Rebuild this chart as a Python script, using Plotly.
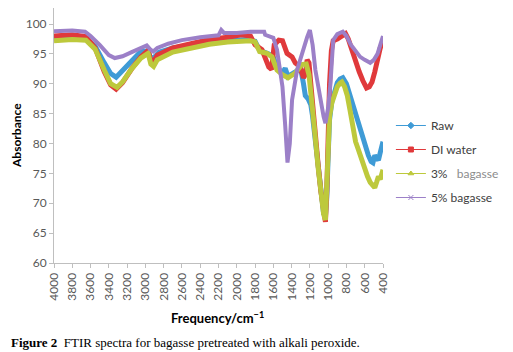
import plotly.graph_objects as go

# ---------------- data ----------------
raw_wn = [4000, 3800, 3650, 3550, 3450, 3380, 3320, 3250, 3150, 3050, 2970, 2935, 2900, 2850,
          2700, 2500, 2300, 2100, 1900, 1800, 1750, 1650, 1600, 1550, 1500, 1470, 1440, 1400,
          1350, 1300, 1270, 1250, 1220, 1190, 1170, 1150, 1110, 1080, 1050, 1030, 1015, 1000,
          985, 960, 930, 900, 870, 840, 800, 760, 720, 690, 650, 620, 590, 560, 530, 510, 490,
          470, 450, 430, 410, 400]
raw_val = [97.6, 97.8, 97.6, 96.3, 93.5, 91.7, 91.1, 92.2, 94.0, 95.4, 95.5, 94.0, 94.5, 95.3,
           96.0, 96.5, 96.9, 97.2, 97.4, 97.1, 95.6, 95.0, 94.4, 92.6, 91.8, 92.6, 91.2, 91.6,
           92.0, 92.5, 90.0, 88.0, 87.5, 86.5, 84.5, 81.5, 75.5, 71.0, 68.3, 67.8, 71.0, 78.0,
           84.0, 87.0, 89.0, 90.2, 90.8, 91.0, 90.0, 88.0, 85.5, 84.0, 82.0, 80.5, 79.5, 78.0,
           77.0, 76.8, 78.0, 77.5, 77.2, 78.5, 79.5, 80.3]

di_wn = [4000, 3800, 3650, 3550, 3450, 3380, 3320, 3250, 3150, 3050, 2970, 2940, 2910, 2870,
         2700, 2500, 2300, 2100, 1950, 1850, 1800, 1725, 1690, 1650, 1620, 1590, 1540, 1500,
         1450, 1395, 1360, 1310, 1270, 1250, 1230, 1210, 1190, 1170, 1150, 1110, 1080, 1050,
         1030, 1015, 1000, 985, 965, 945, 900, 850, 810, 780, 740, 700, 660, 620, 580, 550,
         520, 490, 460, 430, 400]
di_val = [98.0, 98.2, 97.9, 96.0, 92.0, 89.8, 89.1, 90.2, 92.5, 94.5, 95.6, 93.8, 93.7, 94.8,
          96.0, 96.8, 97.4, 97.8, 98.2, 98.0, 96.5, 95.7, 94.5, 92.8, 92.4, 96.5, 97.3, 97.2,
          95.1, 94.5, 93.5, 92.9, 91.0, 91.5, 94.0, 93.5, 90.0, 86.0, 82.5, 76.5, 72.0, 68.5,
          66.9, 72.0, 82.0, 90.0, 95.5, 97.2, 97.5, 98.0, 98.4, 97.5, 95.5, 93.5, 92.0, 90.5,
          89.3, 89.5, 90.3, 92.0, 94.5, 96.0, 97.0]

p3_wn = [4000, 3800, 3650, 3550, 3450, 3380, 3310, 3250, 3150, 3050, 2970, 2940, 2910, 2870,
         2700, 2500, 2300, 2100, 1950, 1850, 1800, 1750, 1670, 1615, 1560, 1500, 1440, 1360,
         1290, 1240, 1210, 1190, 1170, 1150, 1110, 1080, 1050, 1030, 1015, 1000, 985, 960,
         930, 900, 870, 850, 820, 790, 760, 730, 700, 670, 630, 600, 570, 540, 510, 490, 470,
         450, 430, 400]
p3_val = [97.2, 97.4, 97.3, 95.8, 92.3, 90.0, 89.4, 90.3, 92.5, 94.3, 95.1, 93.3, 92.9, 94.0,
          95.3, 96.0, 96.6, 97.0, 97.2, 97.2, 97.0, 95.4, 95.1, 94.5, 92.3, 91.5, 91.0, 91.8,
          93.2, 93.3, 91.5, 89.0, 86.0, 82.5, 76.0, 71.5, 68.2, 67.2, 72.0, 80.0, 84.5, 86.8,
          88.5, 89.5, 90.1, 90.3, 89.5, 88.0, 85.5, 82.3, 80.3, 79.0, 77.0, 76.0, 74.5, 73.5,
          73.0, 72.6, 73.5, 74.5, 74.0, 75.6]

p5_wn = [4000, 3800, 3660, 3600, 3500, 3400, 3335, 3250, 3150, 3050, 2985, 2950, 2915, 2870,
         2750, 2600, 2400, 2200, 2170, 2140, 2000, 1850, 1700, 1690, 1600, 1560, 1530, 1500,
         1470, 1445, 1420, 1395, 1340, 1270, 1230, 1200, 1170, 1140, 1085, 1050, 1030, 1000,
         975, 945, 900, 840, 800, 750, 700, 650, 600, 540, 500, 460, 430, 410, 400]
p5_val = [98.8, 98.9, 98.7, 98.0, 96.5, 94.8, 94.3, 94.6, 95.3, 96.0, 96.4, 95.8, 95.4, 96.0,
          96.7, 97.3, 97.8, 98.1, 99.0, 98.5, 98.5, 98.7, 98.7, 98.2, 97.7, 95.7, 93.0, 89.5,
          83.0, 76.8, 80.0, 87.3, 92.3, 96.2, 97.8, 99.0, 96.5, 92.3, 87.0, 84.5, 83.4, 86.0,
          90.0, 97.3, 98.3, 98.7, 98.0, 96.5, 95.5, 94.5, 94.0, 93.5, 94.0, 95.0, 96.5, 97.7,
          98.0]

series_names = ["Raw", "DI water", "3%   <span style='color:#8c8c8c'>bagasse</span>", "5% bagasse"]
series_colors = ["#3f9bd6", "#e0393b", "#bdc93c", "#9c80c8"]
series_symbols = ["diamond", "square", "triangle-up", "x-thin-open"]
series_widths = [5, 5, 5, 4]

x_ticks = list(range(4000, 399, -200))
y_ticks = list(range(60, 101, 5))

# ---------------- figure ----------------
fig = go.Figure()
data = [(raw_wn, raw_val), (di_wn, di_val), (p3_wn, p3_val), (p5_wn, p5_val)]
for (xs, ys), c, w in zip(data, series_colors, series_widths):
    fig.add_trace(go.Scatter(x=xs, y=ys, mode="lines", line=dict(color=c, width=w),
                             showlegend=False, hoverinfo="skip"))

# legend entries (thin line with small marker, like the reference)
for i, (n, c, s) in enumerate(zip(series_names, series_colors, series_symbols)):
    fig.add_trace(go.Scatter(x=[None], y=[None], mode="lines+markers", name=n,
                             legendgroup=f"g{i}",
                             line=dict(color=c, width=1),
                             marker=dict(symbol=s, size=5, color=c,
                                         line=dict(color=c, width=1))))

axis_font = dict(family="Lato, Open Sans, sans-serif", size=12, color="#595959")

# the page body adds an 8 px offset, so the figure is sized 8 px smaller
fig.update_layout(
    width=505, height=344,
    margin=dict(l=46, r=130, t=0, b=89, autoexpand=False),
    paper_bgcolor="white", plot_bgcolor="white",
    showlegend=True,
    legend=dict(x=1.024, xanchor="left", y=0.398, yanchor="middle",
                font=dict(family="Lato, Open Sans, sans-serif", size=12, color="#404040"),
                itemwidth=30, tracegroupgap=5, traceorder="grouped",
                bgcolor="rgba(0,0,0,0)"),
    xaxis=dict(range=[4000, 400], tickmode="array", tickvals=x_ticks,
               ticktext=[str(v) for v in x_ticks], tickangle=-90, automargin=False,
               showgrid=False, zeroline=False, showline=True, linecolor="#bfbfbf",
               linewidth=1, ticks="outside", ticklen=4, tickcolor="#bfbfbf",
               tickfont=axis_font),
    yaxis=dict(range=[60, 102.68], tickmode="array", tickvals=y_ticks, automargin=False,
               showgrid=False, zeroline=False, showline=True, linecolor="#bfbfbf",
               linewidth=1, ticks="outside", ticklen=4, tickcolor="#bfbfbf",
               tickfont=axis_font),
)

fig.add_annotation(text="<b>Absorbance</b>", xref="paper", yref="paper",
                   x=-0.143, y=0.5, textangle=-90, showarrow=False,
                   font=dict(family="Lato, Open Sans, sans-serif", size=12, color="#000000"))
fig.add_annotation(text="<b>Frequency/cm<sup>−1</sup></b>", xref="paper", yref="paper",
                   x=0.496, y=-0.212, showarrow=False, yanchor="middle",
                   font=dict(family="Lato, Open Sans, sans-serif", size=13, color="#000000"))
fig.add_annotation(text="<b>Figure 2</b>  FTIR spectra for bagasse pretreated with alkali peroxide.",
                   xref="paper", yref="paper", x=-0.138, y=-0.310, xanchor="left",
                   yanchor="middle", showarrow=False,
                   font=dict(family="Liberation Serif, serif", size=13, color="#000000"))

fig.write_html("out.html")
